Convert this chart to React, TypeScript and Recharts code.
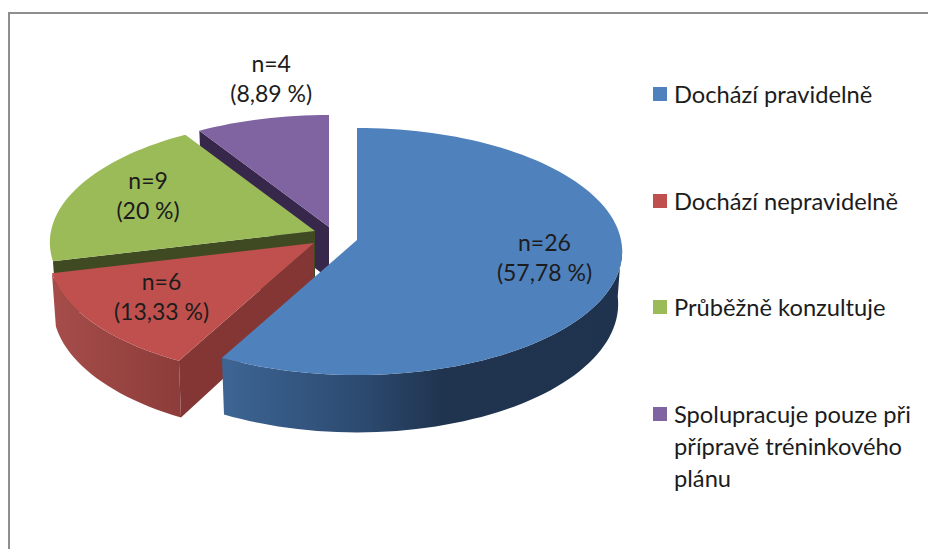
import { PieChart, Pie, Legend } from 'recharts'

const categories = ['Dochází pravidelně', 'Dochází nepravidelně', 'Průběžně konzultuje', 'Spolupracuje pouze při přípravě tréninkového plánu']
const counts = [26, 6, 9, 4]
const countLabels = ['n=26', 'n=6', 'n=9', 'n=4']
const percentLabels = ['(57,78 %)', '(13,33 %)', '(20 %)', '(8,89 %)']

const topColors = ['#4f81bd', '#c0504d', '#9bbb59', '#8064a2']
const edgeColors = ['#2c4a70', '#843634', '#3f4a22', '#37274a']
const wallStops = [
  [['0', '#3d6594'], ['0.35', '#2c4a70'], ['0.55', '#20344f'], ['1', '#1f334e']],
  [['0', '#a64d4a'], ['1', '#8c3c3a']],
]

// how far each slice is pulled out of the pie, and where its label sits
const explode = [[0, 0], [-43, 3], [-42, -9], [-28, -13]]
const labelPos = [[0.72, -4, 0], [0.69, 0, -3], [0.69, -4, -2], [1.0, -40, 9]]

const FONT = 'Lato, sans-serif'
const CX = 357
const CY = 240
const RADIUS = 264
const SQUASH = 0.464
const TILT = 0.093
const DEPTH = 52

function project(deg: number, r: number, z = 0) {
  const a = (deg * Math.PI) / 180
  const u = r * Math.sin(a)
  const v = -r * Math.cos(a)
  const w = 1 - TILT * v
  return {
    x: ((RADIUS * u) / w) * (1 - z * 0.015),
    y: (RADIUS * SQUASH * v) / w + (z * DEPTH) / w,
  }
}

function arc(from: number, to: number, z: number, ox: number, oy: number) {
  const pts: string[] = []
  const step = from <= to ? 2 : -2
  for (let d = from; step > 0 ? d < to : d > to; d += step) {
    const p = project(d, 1, z)
    pts.push(`${CX + ox + p.x} ${CY + oy + p.y}`)
  }
  const p = project(to, 1, z)
  pts.push(`${CX + ox + p.x} ${CY + oy + p.y}`)
  return pts
}

function Slice3D(props: any) {
  const i = categories.indexOf(props.name)
  const [ox, oy] = explode[i]
  const start = 450 - props.endAngle
  const end = 450 - props.startAngle
  const apexX = CX + ox
  const apexY = CY + oy
  const wallFrom = Math.max(start, 92)
  const wallTo = Math.min(end, 256)
  const sideVisible = start >= 180 && start < 360
  const s0 = project(start, 1, 0)
  const s1 = project(start, 1, 1)
  const apexLow = project(0, 0, 1)
  return (
    <g>
      {sideVisible && (
        <path
          d={`M${apexX} ${apexY}L${apexX + s0.x} ${apexY + s0.y}L${apexX + s1.x} ${apexY + s1.y}L${apexX + apexLow.x} ${apexY + apexLow.y}Z`}
          fill={edgeColors[i]}
        />
      )}
      {wallFrom < wallTo && (
        <>
          <defs>
            <linearGradient id={`wall${i}`} x1="0" x2="1" y1="0" y2="0">
              {wallStops[i].map(([o, c]) => <stop key={o} offset={o} stopColor={c} />)}
            </linearGradient>
          </defs>
          <path
            d={`M${arc(wallFrom, wallTo, 0, ox, oy).join('L')}L${arc(wallTo, wallFrom, 1, ox, oy).join('L')}Z`}
            fill={`url(#wall${i})`}
          />
        </>
      )}
      <path d={`M${apexX} ${apexY}L${arc(start, end, 0, ox, oy).join('L')}Z`} fill={topColors[i]} />
    </g>
  )
}

function SliceLabel(props: any) {
  const i = categories.indexOf(props.name)
  const p = project(450 - props.midAngle, labelPos[i][0])
  const x = CX + explode[i][0] + p.x + labelPos[i][2]
  const y = CY + explode[i][1] + p.y + labelPos[i][1]
  return (
    <text x={x} textAnchor="middle" fontFamily={FONT} fontSize={23} fill="#1c1c1c">
      <tspan x={x} y={y - 7}>{countLabels[i]}</tspan>
      <tspan x={x} y={y + 23}>{percentLabels[i]}</tspan>
    </text>
  )
}

function LegendList() {
  return (
    <div style={{ fontFamily: FONT, fontSize: 23.7, lineHeight: '32px', color: '#1c1c1c' }}>
      {categories.map((c, i) => (
        <div key={c} style={{ display: 'flex', height: 106.7 }}>
          <span style={{ width: 14, height: 14, marginTop: 9, marginRight: 7, flex: 'none', background: topColors[i] }} />
          <span style={{ width: 250 }}>{c}</span>
        </div>
      ))}
    </div>
  )
}

// reversed so the back slices are drawn first; the angles run the other way to match
const table = categories.map((name, i) => ({ name, value: counts[i], fill: topColors[i] })).reverse()

export default function App() {
  return (
    <div style={{ position: 'absolute', left: 0, top: 0, width: 928, height: 549, overflow: 'hidden', background: '#fff' }}>
      <div style={{ position: 'absolute', left: 8, top: 12, width: 930, height: 550, borderLeft: '2px solid #8e8e8e', borderTop: '2px solid #8e8e8e' }} />
      <PieChart width={928} height={549} margin={{ top: 0, right: 0, bottom: 0, left: 0 }}>
        <Pie
          data={table}
          dataKey="value"
          nameKey="name"
          cx={CX}
          cy={CY}
          outerRadius={RADIUS}
          startAngle={90}
          endAngle={450}
          stroke="none"
          shape={Slice3D}
          label={SliceLabel}
          labelLine={false}
          isAnimationActive={false}
        />
        <Legend
          content={LegendList}
          layout="vertical"
          wrapperStyle={{ left: 653, top: 78, width: 270, bottom: 'auto', right: 'auto' }}
        />
      </PieChart>
    </div>
  )
}
